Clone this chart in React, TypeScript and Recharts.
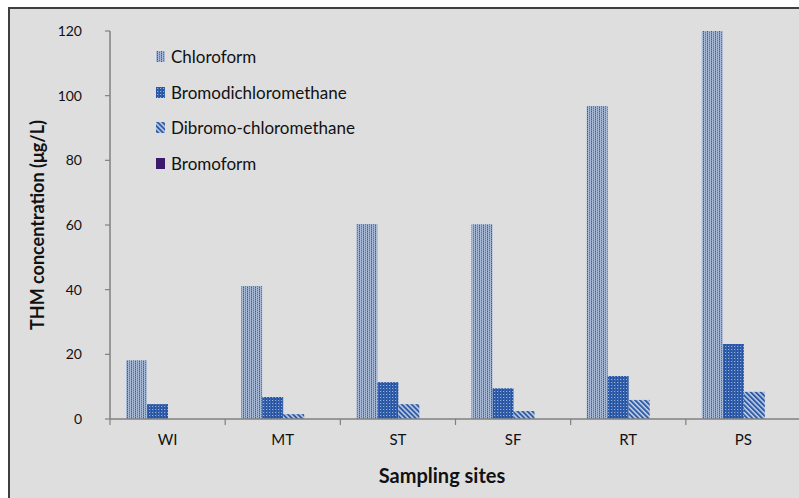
import React from 'react';
import { BarChart, Bar, XAxis, YAxis, Legend, Label } from 'recharts';

// Sampling sites and trihalomethane concentrations (µg/L)
const sites = ['WI', 'MT', 'ST', 'SF', 'RT', 'PS'];
const chloroform = [18.2, 41.1, 60.3, 60.2, 96.8, 120.2];
const bromodichloromethane = [4.6, 6.8, 11.4, 9.5, 13.3, 23.2];
const dibromochloromethane = [0, 1.5, 4.6, 2.5, 5.9, 8.4];
const bromoform = [0, 0, 0, 0, 0, 0];

const yTicks = [0, 20, 40, 60, 80, 100, 120];

const seriesNames = ['Chloroform', 'Bromodichloromethane', 'Dibromo-chloromethane', 'Bromoform'];
const seriesKeys = ['chcl3', 'bdcm', 'dbcm', 'chbr3'];
const seriesFills = ['url(#pat-chcl3)', 'url(#pat-bdcm)', 'url(#pat-dbcm)', '#3b1a6b'];

const data = sites.map((site, i) => ({
  site,
  chcl3: chloroform[i],
  bdcm: bromodichloromethane[i],
  dbcm: dibromochloromethane[i],
  chbr3: bromoform[i],
}));

const FONT = 'Lato, "Open Sans", sans-serif';
const AXIS = '#808080';
const TEXT = '#111';
const X_TICK_SIZE = 6;
const X_TICK_MARGIN = 9;

function Patterns() {
  return (
    <defs>
      <pattern id="pat-chcl3" width="4" height="2" patternUnits="userSpaceOnUse">
        <rect width="4" height="2" fill="#a9bad6" />
        <rect x="1" y="0" width="1" height="1" fill="#2d5ca9" />
        <rect x="1" y="1" width="1" height="1" fill="#7893c0" />
        <rect x="3" y="0" width="1" height="2" fill="#8aa2c9" />
        <rect x="3" y="1" width="1" height="1" fill="#4f74b3" />
      </pattern>
      <pattern id="pat-bdcm" width="3" height="3" patternUnits="userSpaceOnUse">
        <rect width="3" height="3" fill="#2855a3" />
        <rect x="1" y="1" width="1" height="1" fill="#9ab2d8" />
        <rect x="2" y="0" width="1" height="3" fill="#3a66b0" />
      </pattern>
      <pattern id="pat-dbcm" width="3.5" height="3.5" patternUnits="userSpaceOnUse" patternTransform="rotate(-45)">
        <rect width="3.5" height="3.5" fill="#c0cde2" />
        <rect width="1.9" height="3.5" fill="#2d5ba8" />
      </pattern>
    </defs>
  );
}

// Category label centred in its band, with tick marks on the band edges
function SiteTick(props: any) {
  const { x, y, payload, index, visibleTicksCount } = props;
  const half = payload.offset || 0;
  const top = y - X_TICK_MARGIN - X_TICK_SIZE;
  const bottom = y - X_TICK_MARGIN;
  const isLast = index === visibleTicksCount - 1;
  return (
    <g>
      <line x1={x - half} x2={x - half} y1={top} y2={bottom} stroke={AXIS} strokeWidth={1.2} />
      {isLast && <line x1={x + half} x2={x + half} y1={top} y2={bottom} stroke={AXIS} strokeWidth={1.2} />}
      <text x={x} y={y} dy="0.71em" textAnchor="middle" fill={TEXT} fontSize={15} fontFamily={FONT}>
        {payload.value}
      </text>
    </g>
  );
}

function LegendBox() {
  return (
    <div style={{ fontFamily: FONT, fontSize: 17, color: TEXT }}>
      {seriesNames.map((name, i) => (
        <div key={name} style={{ display: 'flex', alignItems: 'center', height: 35.5 }}>
          <svg width={9} height={11} style={{ marginRight: 6, display: 'block' }}>
            <rect width={9} height={11} fill={seriesFills[i]} />
          </svg>
          <span>{name}</span>
        </div>
      ))}
    </div>
  );
}

export default function App() {
  return (
    <div style={{ position: 'fixed', left: 0, top: 0, width: 799, height: 498, background: '#fff', overflow: 'hidden' }}>
      <div
        style={{
          position: 'absolute',
          left: 8,
          top: 7,
          width: 791,
          height: 491,
          background: '#dedede',
          borderLeft: '2px solid #3f3f3f',
          borderTop: '2px solid #3f3f3f',
          boxSizing: 'border-box',
          overflow: 'hidden',
        }}
      >
        <BarChart
          width={800}
          height={489}
          data={data}
          margin={{ top: 22, right: 9, bottom: 49, left: 0 }}
          barCategoryGap="13.9%"
          barGap={0}
          style={{ fontFamily: FONT }}
        >
          <Patterns />
          <XAxis
            dataKey="site"
            height={30}
            axisLine={{ stroke: AXIS, strokeWidth: 1.5 }}
            tickLine={false}
            tickSize={X_TICK_SIZE}
            tickMargin={X_TICK_MARGIN}
            interval={0}
            tick={<SiteTick />}
          >
            <Label
              content={({ viewBox }: any) => (
                <text
                  x={viewBox.x + 332}
                  y={viewBox.y + 56}
                  textAnchor="middle"
                  dominantBaseline="central"
                  fontFamily={FONT}
                  fontWeight="bold"
                  fontSize={20}
                  fill={TEXT}
                >
                  Sampling sites
                </text>
              )}
            />
          </XAxis>
          <YAxis
            width={100}
            domain={[0, 120]}
            ticks={yTicks}
            allowDataOverflow
            tickSize={5}
            tickMargin={23}
            axisLine={{ stroke: AXIS, strokeWidth: 1.5 }}
            tickLine={{ stroke: AXIS, strokeWidth: 1.2 }}
            tick={{ fill: TEXT, fontSize: 14, fontFamily: FONT }}
          >
            <Label
              content={({ viewBox }: any) => {
                const cx = viewBox.x + 26.5;
                const cy = viewBox.y + viewBox.height / 2;
                return (
                  <text
                    x={cx}
                    y={cy}
                    transform={`rotate(-90, ${cx}, ${cy})`}
                    textAnchor="middle"
                    dominantBaseline="central"
                    fontFamily={FONT}
                    fontWeight="bold"
                    fontSize={18}
                    fill={TEXT}
                  >
                    THM concentration (μg/L)
                  </text>
                );
              }}
            />
          </YAxis>
          <Legend
            layout="horizontal"
            verticalAlign="middle"
            align="center"
            content={() => <LegendBox />}
            wrapperStyle={{ left: 146, top: 30, width: 320, height: 142 }}
          />
          {seriesKeys.map((key, i) => (
            <Bar
              key={key}
              dataKey={key}
              name={seriesNames[i]}
              fill={seriesFills[i]}
              isAnimationActive={false}
            />
          ))}
        </BarChart>
      </div>
    </div>
  );
}
